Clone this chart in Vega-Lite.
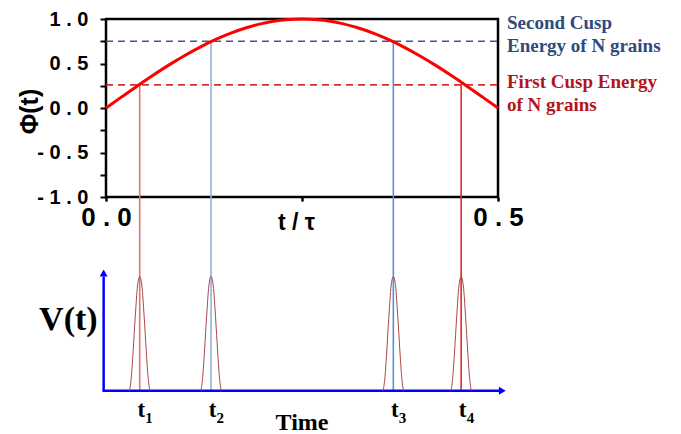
{
  "$schema": "https://vega.github.io/schema/vega-lite/v6.json",
  "width": 392,
  "height": 374,
  "autosize": {"type": "none"},
  "padding": {"left": 106, "top": 19, "right": 183, "bottom": 41},
  "background": "white",
  "config": {"view": {"stroke": null}},
  "datasets": {
    "curve": [
      {"t": 0.00, "phi": 0},
      {"t": 0.02, "phi": 0.1253},
      {"t": 0.04, "phi": 0.2487},
      {"t": 0.06, "phi": 0.3681},
      {"t": 0.08, "phi": 0.4818},
      {"t": 0.10, "phi": 0.5878},
      {"t": 0.12, "phi": 0.6845},
      {"t": 0.14, "phi": 0.7705},
      {"t": 0.16, "phi": 0.8443},
      {"t": 0.18, "phi": 0.9048},
      {"t": 0.20, "phi": 0.9511},
      {"t": 0.22, "phi": 0.9823},
      {"t": 0.24, "phi": 0.9980},
      {"t": 0.25, "phi": 1.0},
      {"t": 0.26, "phi": 0.9980},
      {"t": 0.28, "phi": 0.9823},
      {"t": 0.30, "phi": 0.9511},
      {"t": 0.32, "phi": 0.9048},
      {"t": 0.34, "phi": 0.8443},
      {"t": 0.36, "phi": 0.7705},
      {"t": 0.38, "phi": 0.6845},
      {"t": 0.40, "phi": 0.5878},
      {"t": 0.42, "phi": 0.4818},
      {"t": 0.44, "phi": 0.3681},
      {"t": 0.46, "phi": 0.2487},
      {"t": 0.48, "phi": 0.1253},
      {"t": 0.50, "phi": 0}
    ],
    "cusps": [
      {"cusp": "Second", "level": 0.75, "label": ["Second Cusp", "Energy of N grains"]},
      {"cusp": "First", "level": 0.26, "label": ["First Cusp Energy", "of N grains"]}
    ],
    "crossings": [
      {"k": "1", "t": 0.043, "phi": 0.26},
      {"k": "2", "t": 0.134, "phi": 0.75},
      {"k": "3", "t": 0.3665, "phi": 0.75},
      {"k": "4", "t": 0.453, "phi": 0.27}
    ],
    "pulses": [
      {"k": "1", "t": 0.0300, "v": 0}, {"k": "1", "t": 0.0314, "v": 0.06}, {"k": "1", "t": 0.0327, "v": 0.15},
      {"k": "1", "t": 0.0339, "v": 0.27}, {"k": "1", "t": 0.0352, "v": 0.41}, {"k": "1", "t": 0.0365, "v": 0.56},
      {"k": "1", "t": 0.0382, "v": 0.74}, {"k": "1", "t": 0.0394, "v": 0.86}, {"k": "1", "t": 0.0413, "v": 0.97},
      {"k": "1", "t": 0.0430, "v": 1}, {"k": "1", "t": 0.0447, "v": 0.97}, {"k": "1", "t": 0.0466, "v": 0.86},
      {"k": "1", "t": 0.0478, "v": 0.74}, {"k": "1", "t": 0.0495, "v": 0.56}, {"k": "1", "t": 0.0508, "v": 0.41},
      {"k": "1", "t": 0.0521, "v": 0.27}, {"k": "1", "t": 0.0533, "v": 0.15}, {"k": "1", "t": 0.0546, "v": 0.06},
      {"k": "1", "t": 0.0560, "v": 0},
      {"k": "2", "t": 0.1210, "v": 0}, {"k": "2", "t": 0.1224, "v": 0.06}, {"k": "2", "t": 0.1237, "v": 0.15},
      {"k": "2", "t": 0.1249, "v": 0.27}, {"k": "2", "t": 0.1262, "v": 0.41}, {"k": "2", "t": 0.1275, "v": 0.56},
      {"k": "2", "t": 0.1292, "v": 0.74}, {"k": "2", "t": 0.1304, "v": 0.86}, {"k": "2", "t": 0.1323, "v": 0.97},
      {"k": "2", "t": 0.1340, "v": 1}, {"k": "2", "t": 0.1357, "v": 0.97}, {"k": "2", "t": 0.1376, "v": 0.86},
      {"k": "2", "t": 0.1388, "v": 0.74}, {"k": "2", "t": 0.1405, "v": 0.56}, {"k": "2", "t": 0.1418, "v": 0.41},
      {"k": "2", "t": 0.1431, "v": 0.27}, {"k": "2", "t": 0.1443, "v": 0.15}, {"k": "2", "t": 0.1456, "v": 0.06},
      {"k": "2", "t": 0.1470, "v": 0},
      {"k": "3", "t": 0.3535, "v": 0}, {"k": "3", "t": 0.3549, "v": 0.06}, {"k": "3", "t": 0.3562, "v": 0.15},
      {"k": "3", "t": 0.3574, "v": 0.27}, {"k": "3", "t": 0.3587, "v": 0.41}, {"k": "3", "t": 0.3600, "v": 0.56},
      {"k": "3", "t": 0.3617, "v": 0.74}, {"k": "3", "t": 0.3629, "v": 0.86}, {"k": "3", "t": 0.3648, "v": 0.97},
      {"k": "3", "t": 0.3665, "v": 1}, {"k": "3", "t": 0.3682, "v": 0.97}, {"k": "3", "t": 0.3701, "v": 0.86},
      {"k": "3", "t": 0.3713, "v": 0.74}, {"k": "3", "t": 0.3730, "v": 0.56}, {"k": "3", "t": 0.3743, "v": 0.41},
      {"k": "3", "t": 0.3756, "v": 0.27}, {"k": "3", "t": 0.3768, "v": 0.15}, {"k": "3", "t": 0.3781, "v": 0.06},
      {"k": "3", "t": 0.3795, "v": 0},
      {"k": "4", "t": 0.4400, "v": 0}, {"k": "4", "t": 0.4414, "v": 0.06}, {"k": "4", "t": 0.4427, "v": 0.15},
      {"k": "4", "t": 0.4439, "v": 0.27}, {"k": "4", "t": 0.4452, "v": 0.41}, {"k": "4", "t": 0.4465, "v": 0.56},
      {"k": "4", "t": 0.4482, "v": 0.74}, {"k": "4", "t": 0.4494, "v": 0.86}, {"k": "4", "t": 0.4513, "v": 0.97},
      {"k": "4", "t": 0.4530, "v": 1}, {"k": "4", "t": 0.4547, "v": 0.97}, {"k": "4", "t": 0.4566, "v": 0.86},
      {"k": "4", "t": 0.4578, "v": 0.74}, {"k": "4", "t": 0.4595, "v": 0.56}, {"k": "4", "t": 0.4608, "v": 0.41},
      {"k": "4", "t": 0.4621, "v": 0.27}, {"k": "4", "t": 0.4633, "v": 0.15}, {"k": "4", "t": 0.4646, "v": 0.06},
      {"k": "4", "t": 0.4660, "v": 0}
    ]
  },
  "layer": [
    {
      "layer": [
        {
          "data": {"values": [{}]},
          "mark": {"type": "rect", "filled": false, "color": "black", "strokeWidth": 2.5},
          "encoding": {
            "x": {"datum": 0, "type": "quantitative", "scale": {"domain": [0, 0.5], "nice": false, "zero": false}},
            "x2": {"datum": 0.5},
            "y": {"datum": -1, "type": "quantitative", "scale": {"domain": [-3.2, 1], "nice": false, "zero": false}},
            "y2": {"datum": 1}
          }
        },
        {
          "data": {"name": "cusps"},
          "transform": [{"filter": "datum.cusp == 'Second'"}],
          "mark": {"type": "rule", "color": "#3a5a8c", "strokeWidth": 1.6, "strokeDash": [7, 5]},
          "encoding": {
            "x": {"datum": 0, "type": "quantitative"},
            "x2": {"datum": 0.5},
            "y": {"field": "level", "type": "quantitative"}
          }
        },
        {
          "data": {"name": "cusps"},
          "transform": [{"filter": "datum.cusp == 'First'"}],
          "mark": {"type": "rule", "color": "#d63030", "strokeWidth": 1.6, "strokeDash": [7, 5]},
          "encoding": {
            "x": {"datum": 0, "type": "quantitative"},
            "x2": {"datum": 0.5},
            "y": {"field": "level", "type": "quantitative"}
          }
        },
        {
          "data": {"name": "crossings"},
          "mark": {"type": "rule", "strokeWidth": 1.6},
          "encoding": {
            "x": {"field": "t", "type": "quantitative"},
            "y": {"field": "phi", "type": "quantitative"},
            "y2": {"datum": -3.175},
            "color": {"field": "k", "type": "nominal", "scale": {"domain": ["1", "2", "3", "4"], "range": ["#e07575", "#8db3e3", "#5b8ed8", "#e02a2a"]}, "legend": null}
          }
        },
        {
          "data": {"name": "curve"},
          "mark": {"type": "line", "color": "#ff0000", "strokeWidth": 3, "interpolate": "monotone"},
          "encoding": {
            "x": {
              "field": "t", "type": "quantitative",
              "axis": {
                "values": [0, 0.25, 0.5],
                "labelExpr": "datum.value == 0 ? '0 . 0' : datum.value == 0.5 ? '0 . 5' : ''",
                "domain": false, "grid": false, "tickSize": 4, "tickWidth": 2.5, "tickColor": "black",
                "labelFont": "Liberation Sans", "labelFontSize": 26, "labelFontWeight": "bold", "labelColor": "black",
                "labelPadding": 3, "labelDx": -5, "labelFlush": false, "labelOverlap": false,
                "offset": -195.9,
                "title": "t / τ", "titleFont": "Liberation Sans", "titleFontSize": 23, "titleFontWeight": "bold", "titleColor": "black",
                "titleX": 190, "titleY": 32, "titleBaseline": "alphabetic", "titleAlign": "center"
              }
            },
            "y": {
              "field": "phi", "type": "quantitative",
              "axis": {
                "values": [-1, -0.75, -0.5, -0.25, 0, 0.25, 0.5, 0.75, 1],
                "labelExpr": "datum.value == 1 ? '1 . 0' : datum.value == 0.5 ? '0 . 5' : datum.value == 0 ? '0 . 0' : datum.value == -0.5 ? '- 0 . 5' : datum.value == -1 ? '- 1 . 0' : ''",
                "domain": false, "grid": false, "tickSize": 6, "tickWidth": 2, "tickColor": "black",
                "labelFont": "Liberation Sans", "labelFontSize": 20, "labelFontWeight": "bold", "labelColor": "black",
                "labelPadding": 12, "labelFlush": false, "labelOverlap": false,
                "title": "Φ(t)", "titleFont": "Liberation Sans", "titleFontSize": 25, "titleFontWeight": "bold", "titleColor": "black",
                "titleX": -77, "titleY": 92, "titleAngle": -90, "titleAlign": "center", "titleBaseline": "middle"
              }
            }
          }
        },
        {
          "data": {"name": "cusps"},
          "transform": [{"filter": "datum.cusp == 'Second'"}],
          "mark": {"type": "text", "align": "left", "baseline": "middle", "dx": 9, "dy": -17.8, "lineHeight": 23, "font": "Liberation Serif", "fontSize": 19, "fontWeight": "bold", "color": "#2e4a7e"},
          "encoding": {
            "x": {"datum": 0.5, "type": "quantitative"},
            "y": {"field": "level", "type": "quantitative"},
            "text": {"field": "label"}
          }
        },
        {
          "data": {"name": "cusps"},
          "transform": [{"filter": "datum.cusp == 'First'"}],
          "mark": {"type": "text", "align": "left", "baseline": "middle", "dx": 9, "dy": -3.1, "lineHeight": 23, "font": "Liberation Serif", "fontSize": 19, "fontWeight": "bold", "color": "#b3151b"},
          "encoding": {
            "x": {"datum": 0.5, "type": "quantitative"},
            "y": {"field": "level", "type": "quantitative"},
            "text": {"field": "label"}
          }
        }
      ]
    },
    {
      "layer": [
        {
          "data": {"values": [{}]},
          "mark": {"type": "rule", "color": "#0000ff", "strokeWidth": 2.5},
          "encoding": {
            "x": {"datum": -0.003, "type": "quantitative"},
            "y": {"datum": 0, "type": "quantitative", "scale": {"domain": [-0.0201, 3.255], "nice": false, "zero": false}, "axis": null},
            "y2": {"datum": 1.0}
          }
        },
        {
          "data": {"values": [{}]},
          "mark": {"type": "rule", "color": "#0000ff", "strokeWidth": 2.5},
          "encoding": {
            "x": {"datum": -0.0045, "type": "quantitative"},
            "x2": {"datum": 0.5045},
            "y": {"datum": 0, "type": "quantitative", "axis": null}
          }
        },
        {
          "data": {"values": [{}]},
          "mark": {"type": "point", "shape": "triangle-up", "filled": true, "color": "#0000ff", "size": 64, "opacity": 1},
          "encoding": {
            "x": {"datum": -0.003, "type": "quantitative"},
            "y": {"datum": 1.03, "type": "quantitative", "axis": null}
          }
        },
        {
          "data": {"values": [{}]},
          "mark": {"type": "point", "shape": "triangle-right", "filled": true, "color": "#0000ff", "size": 64, "opacity": 1},
          "encoding": {
            "x": {"datum": 0.5055, "type": "quantitative"},
            "y": {"datum": 0, "type": "quantitative", "axis": null}
          }
        },
        {
          "data": {"name": "pulses"},
          "mark": {"type": "line", "color": "#a54a4a", "strokeWidth": 1, "interpolate": "monotone"},
          "encoding": {
            "x": {"field": "t", "type": "quantitative"},
            "y": {"field": "v", "type": "quantitative", "axis": null},
            "detail": {"field": "k"}
          }
        },
        {
          "data": {"name": "crossings"},
          "mark": {"type": "text", "text": "t", "align": "center", "baseline": "alphabetic", "dx": 1.5, "dy": 26, "font": "Liberation Serif", "fontSize": 23, "fontWeight": "bold", "color": "black"},
          "encoding": {
            "x": {"field": "t", "type": "quantitative"},
            "y": {"datum": 0, "type": "quantitative", "axis": null}
          }
        },
        {
          "data": {"name": "crossings"},
          "mark": {"type": "text", "align": "left", "baseline": "alphabetic", "dx": 5.5, "dy": 32, "font": "Liberation Serif", "fontSize": 15, "fontWeight": "bold", "color": "black"},
          "encoding": {
            "x": {"field": "t", "type": "quantitative"},
            "y": {"datum": 0, "type": "quantitative", "axis": null},
            "text": {"field": "k"}
          }
        },
        {
          "data": {"values": [{"label": "Time"}]},
          "mark": {"type": "text", "align": "center", "baseline": "alphabetic", "dy": 39, "font": "Liberation Serif", "fontSize": 24, "fontWeight": "bold", "color": "black"},
          "encoding": {
            "x": {"datum": 0.25, "type": "quantitative"},
            "y": {"datum": 0, "type": "quantitative", "axis": null},
            "text": {"field": "label"}
          }
        },
        {
          "data": {"values": [{"label": "V(t)"}]},
          "mark": {"type": "text", "align": "right", "baseline": "alphabetic", "dx": -6, "font": "Liberation Serif", "fontSize": 34, "fontWeight": "bold", "color": "black"},
          "encoding": {
            "x": {"datum": -0.003, "type": "quantitative"},
            "y": {"datum": 0.53, "type": "quantitative", "axis": null},
            "text": {"field": "label"}
          }
        }
      ]
    }
  ],
  "resolve": {"scale": {"y": "independent"}}
}
